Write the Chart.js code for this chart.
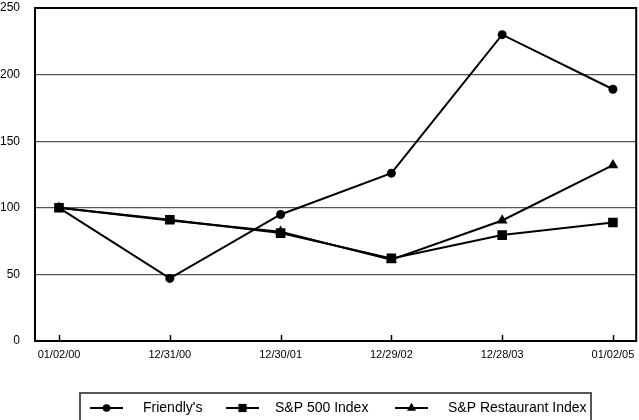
<!DOCTYPE html>
<html>
<head>
<meta charset="utf-8">
<script src="https://cdn.jsdelivr.net/npm/chart.js@4"></script>
<style>
  html, body { margin: 0; padding: 0; background: #fff; overflow: hidden; }
  #wrap { width: 639px; height: 420px; overflow: hidden; }
</style>
</head>
<body>
<div id="wrap"><canvas id="perfChart" width="643" height="420"></canvas></div>
<script>
const dates = ["01/02/00", "12/31/00", "12/30/01", "12/29/02", "12/28/03", "01/02/05"];
const friendlys = [100, 47, 95, 126, 230, 189];
const sp500 = [100, 91, 81, 62, 79.5, 89];
const spRestaurant = [100, 90.5, 82, 61, 90.5, 132];
const yTicks = [0, 50, 100, 150, 200, 250];

const seriesNames = ["Friendly's", "S&P 500 Index", "S&P Restaurant Index"];
const seriesStyles = ["circle", "rect", "triangle"];
const seriesRadius = [4.5, 6.8, 6.2];
const seriesValues = [friendlys, sp500, spRestaurant];

function toPoints(values) {
  return values.map((v, i) => ({ x: i, y: v }));
}

// frame around the plot, inner ticks on the x axis and the boxed legend
const framePlugin = {
  id: "frame",
  afterDraw(chart) {
    const ctx = chart.ctx;
    const a = chart.chartArea;
    const xs = chart.scales.x;
    ctx.save();

    ctx.strokeStyle = "#000";
    ctx.lineWidth = 2;
    ctx.strokeRect(a.left, a.top, a.right - a.left, a.bottom - a.top);

    ctx.lineWidth = 1.5;
    dates.forEach((d, i) => {
      const px = Math.round(xs.getPixelForValue(i)) + 0.5;
      ctx.beginPath();
      ctx.moveTo(px, a.bottom);
      ctx.lineTo(px, a.bottom - 6);
      ctx.stroke();
    });

    // legend box
    ctx.strokeStyle = "#555";
    ctx.lineWidth = 2;
    ctx.strokeRect(80, 393, 511, 30);

    const markerX = [90, 226, 395];
    const textX = [143, 275, 448];
    const cy = 408;
    ctx.font = "14px 'Liberation Sans', Arial, sans-serif";
    ctx.textBaseline = "middle";
    ctx.textAlign = "left";
    seriesNames.forEach((name, i) => {
      ctx.strokeStyle = "#000";
      ctx.lineWidth = 2;
      ctx.beginPath();
      ctx.moveTo(markerX[i], cy);
      ctx.lineTo(markerX[i] + 33, cy);
      ctx.stroke();
      ctx.fillStyle = "#000";
      Chart.helpers.drawPoint(ctx, {
        pointStyle: seriesStyles[i],
        radius: seriesRadius[i] * 0.85,
        rotation: 0,
        borderWidth: 0
      }, markerX[i] + 16.5, cy);
      ctx.fillStyle = "#000";
      ctx.fillText(name, textX[i], cy);
    });
    ctx.restore();
  }
};

const ctx = document.getElementById("perfChart").getContext("2d");
new Chart(ctx, {
  type: "line",
  data: {
    datasets: seriesNames.map((name, i) => ({
      label: name,
      data: toPoints(seriesValues[i]),
      borderColor: "#000",
      backgroundColor: "#000",
      borderWidth: 2,
      pointStyle: seriesStyles[i],
      pointRadius: seriesRadius[i],
      pointBorderWidth: 0,
      pointHoverRadius: seriesRadius[i],
      tension: 0,
      fill: false
    }))
  },
  options: {
    responsive: false,
    animation: false,
    events: [],
    layout: { padding: { top: 8, right: 0, left: 0, bottom: 0 } },
    plugins: {
      legend: { display: false },
      tooltip: { enabled: false }
    },
    scales: {
      x: {
        type: "linear",
        min: -0.217,
        max: 5.21,
        afterBuildTicks: (s) => { s.ticks = dates.map((d, i) => ({ value: i })); },
        afterFit: (s) => { s.height = 79; s.paddingLeft = 0; s.paddingRight = 0; },
        grid: { display: false, drawTicks: false },
        border: { display: false },
        ticks: {
          padding: 0,
          maxRotation: 0,
          autoSkip: false,
          color: "#000",
          font: { family: "'Liberation Sans', Arial, sans-serif", size: 11, lineHeight: "27px" },
          callback: (v) => dates[v]
        }
      },
      y: {
        min: 0,
        max: 250,
        afterBuildTicks: (s) => { s.ticks = yTicks.map((v) => ({ value: v })); },
        afterFit: (s) => { s.width = 35; s.paddingTop = 0; s.paddingBottom = 0; },
        grid: { color: "#555", lineWidth: 1.2, drawTicks: false },
        border: { display: false },
        ticks: {
          padding: 15,
          color: "#000",
          font: { family: "'Liberation Sans', Arial, sans-serif", size: 12 }
        }
      }
    }
  },
  plugins: [framePlugin]
});
</script>
</body>
</html>
